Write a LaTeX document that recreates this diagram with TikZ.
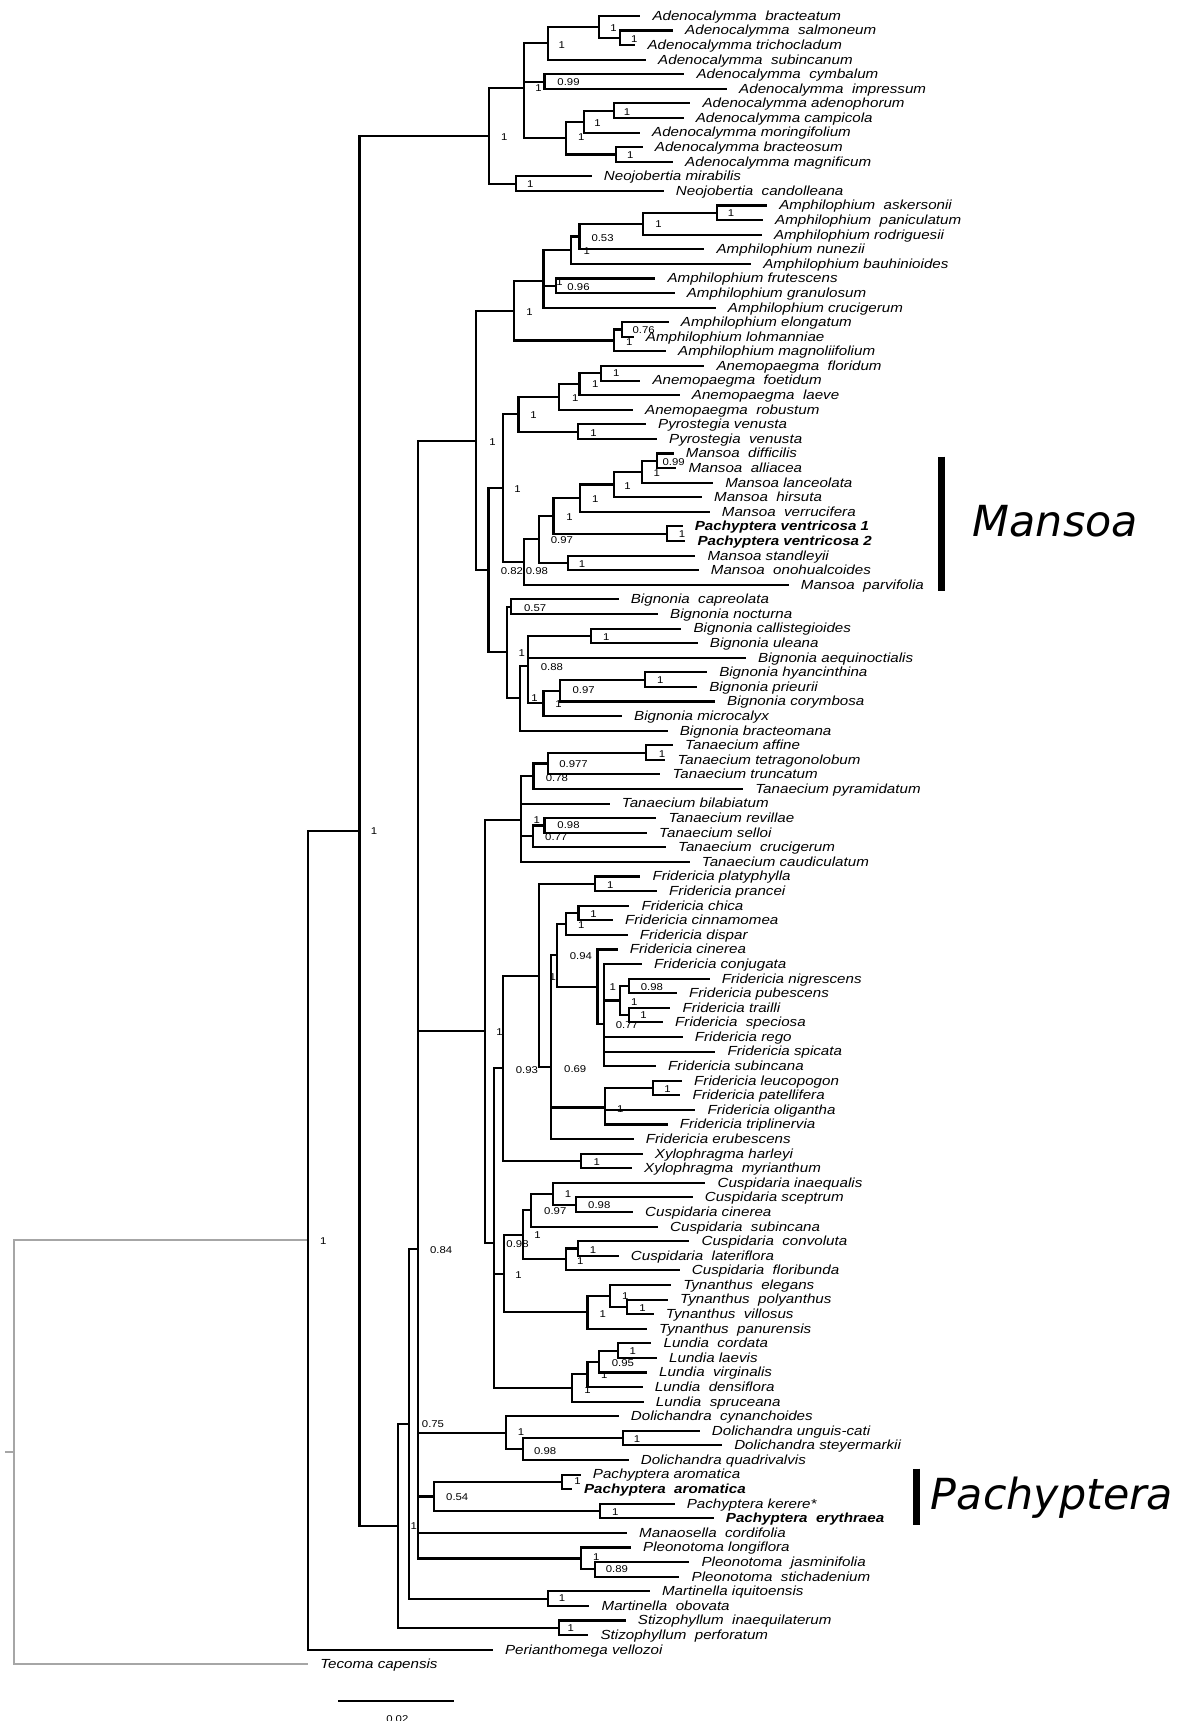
\documentclass[tikz,border=0pt]{standalone}
\usepackage{fontspec}
\setmainfont{Liberation Sans}
\newfontfamily\bigfont{DejaVu Sans}
\usepackage{graphicx}
\definecolor{outgray}{RGB}{166,166,166}
\tikzset{
 br/.style={line width=1.9pt, draw=black},
 gbr/.style={line width=1.9pt, draw=outgray},
 tip/.style={anchor=base west, inner sep=0pt, xshift=11pt, yshift=-4pt, font=\fontsize{12}{12}\selectfont\itshape},
 sv/.style={inner sep=0pt, font=\fontsize{9}{9}\selectfont},
 clade/.style={anchor=base west, inner sep=0pt, font=\bigfont\itshape\fontsize{39}{39}\selectfont},
 cladebar/.style={line width=6pt, draw=black},
}
\newcommand\sx[1]{\scalebox{1.15}[1]{#1}}
\newcommand\lf[4]{\coordinate (#1) at (#3,{1.2+13.29*#2}); \node[tip] (#1n) at (#1) {\sx{#4}};}
\newcommand\nd[3]{\coordinate (#1) at (#3,{1.2+13.29*#2});}
\newcommand\kids[2]{\foreach \kk in {#2}{\draw[br] (#1) |- (\kk);}}
\newcommand\sv[4]{\node[sv] (#1) at (#2,#3) {\sx{#4}};}
\begin{document}
\begin{tikzpicture}[x=1pt,y=-1pt]
\useasboundingbox (0,0) rectangle (1081,1568);
% ---------------- leaves ----------------
\lf{t1}{1}{583.3}{Adenocalymma\ \ bracteatum}
\lf{t2}{2}{613.1}{Adenocalymma\ \ salmoneum}
\lf{t3}{3}{578.8}{Adenocalymma trichocladum}
\lf{t4}{4}{588.5}{Adenocalymma\ \ subincanum}
\lf{t5}{5}{623.4}{Adenocalymma\ \ cymbalum}
\lf{t6}{6}{662.3}{Adenocalymma\ \ impressum}
\lf{t7}{7}{628.9}{Adenocalymma adenophorum}
\lf{t8}{8}{622.8}{Adenocalymma campicola}
\lf{t9}{9}{583.0}{Adenocalymma moringifolium}
\lf{t10}{10}{585.5}{Adenocalymma bracteosum}
\lf{t11}{11}{613.1}{Adenocalymma magnificum}
\lf{t12}{12}{539.0}{Neojobertia mirabilis}
\lf{t13}{13}{604.6}{Neojobertia\ \ candolleana}
\lf{t14}{14}{698.8}{Amphilophium\ \ askersonii}
\lf{t15}{15}{695.1}{Amphilophium\ \ paniculatum}
\lf{t16}{16}{694.0}{Amphilophium rodriguesii}
\lf{t17}{17}{641.7}{Amphilophium nunezii}
\lf{t18}{18}{684.2}{Amphilophium bauhinioides}
\lf{t19}{19}{597.0}{Amphilophium frutescens}
\lf{t20}{20}{614.6}{Amphilophium granulosum}
\lf{t21}{21}{652.0}{Amphilophium crucigerum}
\lf{t22}{22}{609.2}{Amphilophium elongatum}
\lf{t23}{23}{577.3}{Amphilophium lohmanniae}
\lf{t24}{24}{606.7}{Amphilophium magnoliifolium}
\lf{t25}{25}{641.7}{Anemopaegma\ \ floridum}
\lf{t26}{26}{583.3}{Anemopaegma\ \ foetidum}
\lf{t27}{27}{619.2}{Anemopaegma\ \ laeve}
\lf{t28}{28}{576.6}{Anemopaegma\ \ robustum}
\lf{t29}{29}{588.5}{Pyrostegia venusta}
\lf{t30}{30}{598.5}{Pyrostegia\ \ venusta}
\lf{t31}{31}{613.7}{Mansoa\ \ difficilis}
\lf{t32}{32}{616.1}{Mansoa\ \ alliacea}
\lf{t33}{33}{649.6}{Mansoa lanceolata}
\lf{t34}{34}{639.5}{Mansoa\ \ hirsuta}
\lf{t35}{35}{646.5}{Mansoa\ \ verrucifera}
\lf{t36}{36}{621.9}{\bfseries Pachyptera ventricosa 1}
\lf{t37}{37}{624.3}{\bfseries Pachyptera ventricosa 2}
\lf{t38}{38}{633.5}{Mansoa standleyii}
\lf{t39}{39}{636.5}{Mansoa\ \ onohualcoides}
\lf{t40}{40}{718.5}{Mansoa\ \ parvifolia}
\lf{t41}{41}{563.6}{Bignonia\ \ capreolata}
\lf{t42}{42}{599.4}{Bignonia nocturna}
\lf{t43}{43}{620.7}{Bignonia callistegioides}
\lf{t44}{44}{635.6}{Bignonia uleana}
\lf{t45}{45}{679.6}{Bignonia aequinoctialis}
\lf{t46}{46}{644.1}{Bignonia hyancinthina}
\lf{t47}{47}{635.0}{Bignonia prieurii}
\lf{t48}{48}{651.3}{Bignonia corymbosa}
\lf{t49}{49}{566.6}{Bignonia microcalyx}
\lf{t50}{50}{608.2}{Bignonia bracteomana}
\lf{t51}{51}{613.1}{Tanaecium affine}
\lf{t52}{52}{606.1}{Tanaecium tetragonolobum}
\lf{t53}{53}{601.6}{Tanaecium truncatum}
\lf{t54}{54}{677.0}{Tanaecium pyramidatum}
\lf{t55}{55}{555.4}{Tanaecium bilabiatum}
\lf{t56}{56}{597.9}{Tanaecium revillae}
\lf{t57}{57}{589.4}{Tanaecium selloi}
\lf{t58}{58}{606.7}{Tanaecium\ \ crucigerum}
\lf{t59}{59}{628.3}{Tanaecium caudiculatum}
\lf{t60}{60}{583.3}{Fridericia platyphylla}
\lf{t61}{61}{598.5}{Fridericia prancei}
\lf{t62}{62}{573.3}{Fridericia chica}
\lf{t63}{63}{558.4}{Fridericia cinnamomea}
\lf{t64}{64}{571.8}{Fridericia dispar}
\lf{t65}{65}{562.7}{Fridericia cinerea}
\lf{t66}{66}{584.8}{Fridericia conjugata}
\lf{t67}{67}{646.5}{Fridericia nigrescens}
\lf{t68}{68}{616.7}{Fridericia pubescens}
\lf{t69}{69}{610.7}{Fridericia trailli}
\lf{t70}{70}{604.0}{Fridericia\ \ speciosa}
\lf{t71}{71}{621.9}{Fridericia rego}
\lf{t72}{72}{651.7}{Fridericia spicata}
\lf{t73}{73}{597.6}{Fridericia subincana}
\lf{t74}{74}{621.3}{Fridericia leucopogon}
\lf{t75}{75}{619.8}{Fridericia patellifera}
\lf{t76}{76}{633.5}{Fridericia oligantha}
\lf{t77}{77}{608.2}{Fridericia triplinervia}
\lf{t78}{78}{577.3}{Fridericia erubescens}
\lf{t79}{79}{585.5}{Xylophragma harleyi}
\lf{t80}{80}{575.7}{Xylophragma\ \ myrianthum}
\lf{t81}{81}{642.6}{Cuspidaria inaequalis}
\lf{t82}{82}{631.0}{Cuspidaria sceptrum}
\lf{t83}{83}{576.6}{Cuspidaria cinerea}
\lf{t84}{84}{599.4}{Cuspidaria\ \ subincana}
\lf{t85}{85}{628.0}{Cuspidaria\ \ convoluta}
\lf{t86}{86}{563.6}{Cuspidaria\ \ lateriflora}
\lf{t87}{87}{619.2}{Cuspidaria\ \ floribunda}
\lf{t88}{88}{611.3}{Tynanthus\ \ elegans}
\lf{t89}{89}{608.5}{Tynanthus\ \ polyanthus}
\lf{t90}{90}{595.5}{Tynanthus\ \ villosus}
\lf{t91}{91}{589.4}{Tynanthus\ \ panurensis}
\lf{t92}{92}{593.4}{Lundia\ \ cordata}
\lf{t93}{93}{598.5}{Lundia laevis}
\lf{t94}{94}{589.4}{Lundia\ \ virginalis}
\lf{t95}{95}{585.5}{Lundia\ \ densiflora}
\lf{t96}{96}{586.4}{Lundia\ \ spruceana}
\lf{t97}{97}{563.6}{Dolichandra\ \ cynanchoides}
\lf{t98}{98}{637.4}{Dolichandra unguis-cati}
\lf{t99}{99}{657.8}{Dolichandra steyermarkii}
\lf{t100}{100}{572.7}{Dolichandra quadrivalvis}
\lf{t101}{101}{529.0}{Pachyptera aromatica}
\lf{t102}{102}{521.0}{\bfseries Pachyptera\ \ aromatica}
\lf{t103}{103}{614.6}{Pachyptera kerere*}
\lf{t104}{104}{650.2}{\bfseries Pachyptera\ \ erythraea}
\lf{t105}{105}{571.2}{Manaosella\ \ cordifolia}
\lf{t106}{106}{574.8}{Pleonotoma longiflora}
\lf{t107}{107}{628.0}{Pleonotoma\ \ jasminifolia}
\lf{t108}{108}{619.0}{Pleonotoma\ \ stichadenium}
\lf{t109}{109}{592.0}{Martinella iquitoensis}
\lf{t110}{110}{537.0}{Martinella\ \ obovata}
\lf{t111}{111}{570.0}{Stizophyllum\ \ inaequilaterum}
\lf{t112}{112}{536.0}{Stizophyllum\ \ perforatum}
\lf{t113}{113}{449.0}{Perianthomega vellozoi}
\lf{t114}{114}{280.6}{Tecoma capensis}
% ---------------- internal nodes ----------------
\nd{A6}{2.5}{564.5} \nd{A5}{1.75}{545.4} \nd{A2}{2.875}{499.2}
\nd{A3}{5.5}{496.1} \nd{A9}{7.5}{559.0} \nd{A7}{8.25}{531.7}
\nd{A8}{10.5}{561.5} \nd{A4}{9.375}{515.9} \nd{A1}{5.9167}{477.0}
\nd{N0}{12.5}{470.0} \nd{A0}{9.2083}{445.7}
\nd{B2c}{14.5}{653.2} \nd{B2b}{15.25}{585.8} \nd{B2a}{16.125}{528.0}
\nd{B2}{17.0625}{520.4} \nd{B3}{19.5}{506.8} \nd{B1}{19.1875}{495.2}
\nd{B6}{22.5}{566.6} \nd{B5}{23.25}{559.0} \nd{B0}{21.21875}{468.5}
\nd{C3}{25.5}{547.5} \nd{C2}{26.25}{528.0} \nd{C1}{27.125}{509.5}
\nd{C4}{29.5}{526.5} \nd{C0}{28.3125}{472.4}
\nd{M9}{31.5}{598.5} \nd{M8}{32.25}{584.8} \nd{M7}{33.125}{559.0}
\nd{M5}{34.0625}{528.6} \nd{M6}{36.5}{607.6} \nd{M3}{35.28125}{504.3}
\nd{M4}{38.5}{517.1} \nd{M2}{36.890625}{490.7} \nd{M1}{38.4453}{477.0}
\nd{D0}{33.3789}{458.2}
\nd{G1}{41.5}{465.5} \nd{G4}{43.5}{538.7} \nd{G7}{46.5}{587.9}
\nd{G6}{47.25}{510.4} \nd{G5}{48.125}{495.2} \nd{G3}{45.5417}{481.0}
\nd{G2}{47.7708}{473.4} \nd{G0}{44.6354}{461.8}
\nd{E0}{39.0072}{445.1} \nd{E1}{30.1130}{433.8}
\nd{T3}{51.5}{588.8} \nd{T2}{52.25}{499.2} \nd{T1}{53.125}{486.1}
\nd{T5}{56.5}{496.1} \nd{T4}{57.25}{485.2} \nd{T0}{56.09375}{474.6}
\nd{F1}{60.5}{542.3} \nd{F6}{62.5}{527.1} \nd{F7}{63.25}{515.9}
\nd{F12}{67.5}{572.7} \nd{F13}{69.5}{572.7} \nd{F11}{68.5}{564.5}
\nd{F10}{70.1}{550.5} \nd{F9}{67.55}{544.4} \nd{F8}{65.4}{507.4}
\nd{F5}{74.5}{594.9} \nd{F4}{75.8333}{551.4} \nd{F2}{73.0778}{502.2}
\nd{F0}{66.7889}{490.7} \nd{X0}{79.5}{529.6} \nd{FX}{73.1444}{458.2}
\nd{Cu2}{82.5}{525.0} \nd{Cu1}{81.75}{503.7} \nd{Cu3}{82.875}{484.0}
\nd{Cu4}{85.5}{526.5} \nd{Cu5}{86.25}{515.6} \nd{Cu0}{84.5625}{476.4}
\nd{Ty2}{89.5}{571.2} \nd{Ty1}{88.75}{556.0} \nd{Ty0}{89.875}{535.3}
\nd{CT}{87.21875}{458.8}
\nd{L1}{92.5}{563.0} \nd{L2}{93.25}{546.0} \nd{L3}{94.125}{535.3}
\nd{L0}{95.0625}{521.0}
\nd{H1}{85.1419}{450.3} \nd{H0}{70.6179}{442.0}
\nd{Do2}{98.5}{567.5} \nd{Do1}{99.25}{476.4} \nd{Do0}{98.125}{461.2}
\nd{P1}{101.5}{511.9} \nd{P2}{103.5}{546.3} \nd{P0}{102.5}{395.5}
\nd{Pl1}{107.5}{542.3} \nd{Pl0}{106.75}{529.6}
\nd{I4}{85.5177}{380.8} \nd{Ma0}{109.5}{499.0} \nd{I3}{97.5088}{372.7}
\nd{S0}{111.5}{509.4} \nd{I2}{104.5044}{362.9} \nd{I1}{56.8564}{327.5}
\nd{I0}{84.9282}{280.6} \nd{R}{99.4641}{12.4}
\coordinate (R0) at (4.5,{1.2+13.29*99.4641});
% ---------------- branches ----------------
\draw[gbr] (R0) -- (R);
\foreach \kk in {I0,t114}{\draw[gbr] (R) |- (\kk);}
\kids{I0}{I1,t113}
\kids{I1}{A0,I2}
\kids{A0}{A1,N0}
\kids{A1}{A2,A3,A4}
\kids{A2}{A5,t4}
\kids{A5}{t1,A6}
\kids{A6}{t2,t3}
\kids{A3}{t5,t6}
\kids{A4}{A7,A8}
\kids{A7}{A9,t9}
\kids{A9}{t7,t8}
\kids{A8}{t10,t11}
\kids{N0}{t12,t13}
\kids{I2}{I3,S0}
\kids{S0}{t111,t112}
\kids{I3}{I4,Ma0}
\kids{Ma0}{t109,t110}
\kids{I4}{E1,H0,Do0,P0,t105,Pl0}
\kids{E1}{B0,E0}
\kids{B0}{B1,B5}
\kids{B1}{B2,B3,t21}
\kids{B2}{B2a,t18}
\kids{B2a}{B2b,t17}
\kids{B2b}{B2c,t16}
\kids{B2c}{t14,t15}
\kids{B3}{t19,t20}
\kids{B5}{B6,t24}
\kids{B6}{t22,t23}
\kids{E0}{D0,G0}
\kids{D0}{C0,M1}
\kids{C0}{C1,C4}
\kids{C1}{C2,t28}
\kids{C2}{C3,t27}
\kids{C3}{t25,t26}
\kids{C4}{t29,t30}
\kids{M1}{M2,t40}
\kids{M2}{M3,M4}
\kids{M3}{M5,M6}
\kids{M5}{M7,t35}
\kids{M7}{M8,t34}
\kids{M8}{M9,t33}
\kids{M9}{t31,t32}
\kids{M6}{t36,t37}
\kids{M4}{t38,t39}
\kids{G0}{G1,G2}
\kids{G1}{t41,t42}
\kids{G2}{G3,t50}
\kids{G3}{G4,t45,G5}
\kids{G4}{t43,t44}
\kids{G5}{G6,t49}
\kids{G6}{G7,t48}
\kids{G7}{t46,t47}
\kids{H0}{T0,H1}
\kids{T0}{T1,t55,T4,t59}
\kids{T1}{T2,t54}
\kids{T2}{T3,t53}
\kids{T3}{t51,t52}
\kids{T4}{T5,t58}
\kids{T5}{t56,t57}
\kids{H1}{FX,CT,L0}
\kids{FX}{F0,X0}
\kids{F0}{F1,F2}
\kids{F1}{t60,t61}
\kids{F2}{F8,F4,t78}
\kids{F8}{F7,F9}
\kids{F7}{F6,t64}
\kids{F6}{t62,t63}
\kids{F9}{t65,F10}
\kids{F10}{t66,F11,t71,t72,t73}
\kids{F11}{F12,F13}
\kids{F12}{t67,t68}
\kids{F13}{t69,t70}
\kids{F4}{F5,t76,t77}
\kids{F5}{t74,t75}
\kids{X0}{t79,t80}
\kids{CT}{Cu0,Ty0}
\kids{Cu0}{Cu3,Cu5}
\kids{Cu3}{Cu1,t84}
\kids{Cu1}{t81,Cu2}
\kids{Cu2}{t82,t83}
\kids{Cu5}{Cu4,t87}
\kids{Cu4}{t85,t86}
\kids{Ty0}{Ty1,t91}
\kids{Ty1}{t88,Ty2}
\kids{Ty2}{t89,t90}
\kids{L0}{L3,t96}
\kids{L3}{L2,t95}
\kids{L2}{L1,t94}
\kids{L1}{t92,t93}
\kids{Do0}{t97,Do1}
\kids{Do1}{Do2,t100}
\kids{Do2}{t98,t99}
\kids{P0}{P1,P2}
\kids{P1}{t101,t102}
\kids{P2}{t103,t104}
\kids{Pl0}{t106,Pl1}
\kids{Pl1}{t107,t108}
% ---------------- support values ----------------
\sv{s1}{559}{25.8}{1}
\sv{s2}{577.9}{35.9}{1}
\sv{s3}{511.9}{41}{1}
\sv{s4}{518}{75}{0.99}
\sv{s5}{490.7}{80.5}{1}
\sv{s6}{571.2}{101.8}{1}
\sv{s7}{544.4}{112.4}{1}
\sv{s8}{529.6}{125.2}{1}
\sv{s9}{574.2}{141.3}{1}
\sv{s10}{459.4}{124.6}{1}
\sv{s11}{483.1}{167.7}{1}
\sv{s12}{666}{194.5}{1}
\sv{s13}{600}{204.5}{1}
\sv{s14}{549}{216.6}{0.53}
\sv{s15}{534.7}{228.5}{1}
\sv{s16}{509.8}{256.7}{1}
\sv{s17}{527.1}{261.3}{0.96}
\sv{s18}{482.5}{284.7}{1}
\sv{s19}{586.4}{300.8}{0.76}
\sv{s20}{573.3}{311.4}{1}
\sv{s21}{561.5}{340.3}{1}
\sv{s22}{542.3}{350.3}{1}
\sv{s23}{524.1}{363}{1}
\sv{s24}{486.1}{378.3}{1}
\sv{s25}{540.8}{394.4}{1}
\sv{s26}{448.7}{402.6}{1}
\sv{s27}{613.7}{420.8}{0.99}
\sv{s28}{598.5}{430.8}{1}
\sv{s29}{571.8}{443}{1}
\sv{s30}{471.5}{445.7}{1}
\sv{s31}{542.3}{455.1}{1}
\sv{s32}{518.9}{470.9}{1}
\sv{s33}{621.3}{486.7}{1}
\sv{s34}{511.9}{492.2}{0.97}
\sv{s35}{530.2}{513.5}{1}
\sv{s36}{466.4}{520.1}{0.82}
\sv{s37}{489.1}{520.1}{0.98}
\sv{s38}{487.6}{553.6}{0.57}
\sv{s39}{552.3}{580.3}{1}
\sv{s40}{475.5}{594.9}{1}
\sv{s41}{502.8}{607.7}{0.88}
\sv{s42}{601.6}{619.8}{1}
\sv{s43}{531.7}{629}{0.97}
\sv{s44}{487}{635.6}{1}
\sv{s45}{508.9}{641.1}{1}
\sv{s46}{603.1}{686.7}{1}
\sv{s47}{522.6}{696.4}{0.977}
\sv{s48}{507.4}{708.5}{0.78}
\sv{s49}{489.1}{747.4}{1}
\sv{s50}{518}{752}{0.98}
\sv{s51}{506.8}{762.6}{0.77}
\sv{s52}{556}{806.7}{1}
\sv{s53}{540.8}{833.1}{1}
\sv{s54}{529.6}{843.1}{1}
\sv{s55}{529.3}{871.1}{0.94}
\sv{s56}{503.7}{890.2}{1}
\sv{s57}{558.4}{899.3}{1}
\sv{s58}{594}{899.3}{0.98}
\sv{s59}{577.9}{913}{1}
\sv{s60}{586.4}{925.2}{1}
\sv{s61}{571.2}{933.7}{0.77}
\sv{s62}{455.1}{940.4}{1}
\sv{s63}{480}{974.7}{0.93}
\sv{s64}{524.1}{973.8}{0.69}
\sv{s65}{608.2}{992}{1}
\sv{s66}{565.1}{1010.3}{1}
\sv{s67}{543.8}{1058.9}{1}
\sv{s68}{517.5}{1088}{1}
\sv{s69}{546}{1098.4}{0.98}
\sv{s70}{505.9}{1103.5}{0.97}
\sv{s71}{489.8}{1125.1}{1}
\sv{s72}{471.5}{1133.3}{0.98}
\sv{s73}{540.2}{1138.8}{1}
\sv{s74}{528.6}{1149.1}{1}
\sv{s75}{472.4}{1161.6}{1}
\sv{s76}{569.7}{1181.3}{1}
\sv{s77}{585.5}{1191.6}{1}
\sv{s78}{549.3}{1197.1}{1}
\sv{s79}{576.6}{1231.4}{1}
\sv{s80}{567.5}{1241.8}{0.95}
\sv{s81}{550.5}{1252.7}{1}
\sv{s82}{535.3}{1266.4}{1}
\sv{s83}{474.6}{1305}{1}
\sv{s84}{580.3}{1311}{1}
\sv{s85}{496.7}{1321.7}{0.98}
\sv{s86}{526.2}{1349}{1}
\sv{s87}{560.5}{1377.9}{1}
\sv{s88}{543.2}{1418.9}{1}
\sv{s89}{562}{1429.5}{0.89}
\sv{s90}{294.6}{1130.8}{1}
\sv{s91}{402}{1138.7}{0.84}
\sv{s92}{394.5}{1297.9}{0.75}
\sv{s93}{416.6}{1363.6}{0.54}
\sv{s94}{376.9}{1390.7}{1}
\sv{s95}{340.8}{757.5}{1}
\sv{s96}{512}{1456}{1}
\sv{s97}{520}{1483}{1}
% ---------------- clade bars ----------------
\coordinate (mb1) at (858,416); \coordinate (mb2) at (858,538);
\draw[cladebar] (mb1) -- (mb2);
\node[clade] (mans) at (886,489) {Mansoa};
\coordinate (pb1) at (835,1338); \coordinate (pb2) at (835,1389);
\draw[cladebar] (pb1) -- (pb2);
\node[clade] (pach) at (848,1375) {Pachyptera};
% ---------------- scale bar ----------------
\coordinate (sb1) at (308,1550); \coordinate (sb2) at (414,1550);
\draw[br] (sb1) -- (sb2);
\node[sv] (sbl) at (362,1566) {\sx{0.02}};
\end{tikzpicture}
\end{document}
